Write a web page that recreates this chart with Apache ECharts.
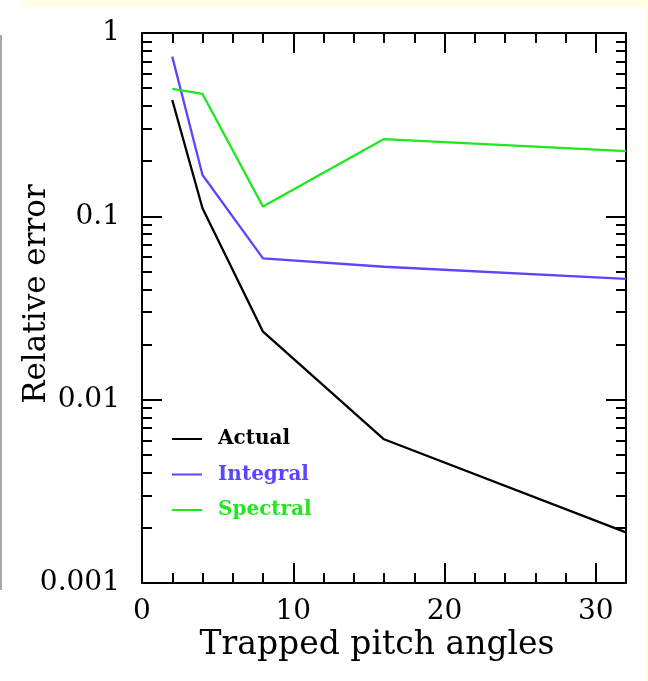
<!DOCTYPE html>
<html>
<head>
<meta charset="utf-8">
<script src="https://cdn.jsdelivr.net/npm/echarts@6/dist/echarts.min.js"></script>
<style>
  html, body { margin: 0; padding: 0; width: 648px; height: 681px; overflow: hidden; background: #fffde2; }
  #sheet { position: absolute; left: 0; top: 7px; width: 645px; height: 674px; background: #ffffff; }
  #corner { position: absolute; left: 0; top: 0; width: 23px; height: 7px; background: #ffffff; }
  #edge { position: absolute; left: 0; top: 35px; width: 2px; height: 555px; background: #a8a8a8; }
  #chart { position: absolute; left: 0; top: 0; width: 648px; height: 681px; }
</style>
</head>
<body>
<div id="sheet"></div>
<div id="corner"></div>
<div id="edge"></div>
<div id="chart"></div>
<script>
// Number of trapped pitch angles
const pitchAngles = [2, 4, 8, 16, 32];

// Relative error of each estimate
const actualError   = [0.431, 0.1106, 0.0235, 0.00608, 0.00189];
const integralError = [0.743, 0.168, 0.059, 0.0531, 0.0456];
const spectralError = [0.495, 0.465, 0.113, 0.264, 0.227];

const seriesNames  = ['Actual', 'Integral', 'Spectral'];
const seriesColors = ['#000000', '#5a46ff', '#1ee81e'];

// Axis ticks
const xTicks      = [0, 10, 20, 30];
const xMinorTicks = [2, 4, 6, 8, 12, 14, 16, 18, 22, 24, 26, 28];
const yTicks      = [0.001, 0.01, 0.1, 1];
const yTickLabels = ['0.001', '0.01', '0.1', '1'];
const yMinorTicks = [];
[0.001, 0.01, 0.1].forEach(function (decade) {
  for (let k = 2; k <= 9; k++) yMinorTicks.push(+(decade * k).toPrecision(3));
});

const FONT = '"DejaVu Serif", serif';
const INK = '#000000';

function xAxisDef(position, ticks, len, withLine, withLabels) {
  return {
    type: 'value', position: position, min: 0, max: 32,
    axisLine: { show: withLine, onZero: false, lineStyle: { color: INK, width: 2 } },
    axisTick: { show: true, inside: true, length: len, customValues: ticks, lineStyle: { color: INK, width: 2 } },
    axisLabel: { show: withLabels, customValues: xTicks, fontFamily: FONT, fontSize: 28, color: INK, margin: 15 },
    splitLine: { show: false }
  };
}

function yAxisDef(position, ticks, len, withLine, withLabels) {
  return {
    type: 'log', logBase: 10, position: position, min: 0.001, max: 1,
    axisLine: { show: withLine, onZero: false, lineStyle: { color: INK, width: 2 } },
    axisTick: { show: true, inside: true, length: len, customValues: ticks, lineStyle: { color: INK, width: 2 } },
    axisLabel: {
      show: withLabels, customValues: yTicks, fontFamily: FONT, fontSize: 28, color: INK, margin: 22,
      formatter: function (v) {
        const i = yTicks.findIndex(function (t) { return Math.abs(Math.log10(t) - Math.log10(v)) < 1e-6; });
        return i >= 0 ? yTickLabels[i] : '';
      }
    },
    splitLine: { show: false }
  };
}

const xAxes = [
  xAxisDef('bottom', xTicks, 20, true, true),
  xAxisDef('bottom', xMinorTicks, 10, false, false),
  xAxisDef('top', xTicks, 20, true, false),
  xAxisDef('top', xMinorTicks, 10, false, false)
];
Object.assign(xAxes[0], {
  name: 'Trapped pitch angles', nameLocation: 'middle', nameGap: 46, nameMoveOverlap: false,
  nameTextStyle: { fontFamily: FONT, fontSize: 33, color: INK, padding: [0, 14, 0, 0] }
});

const yAxes = [
  yAxisDef('left', yTicks, 20, true, true),
  yAxisDef('left', yMinorTicks, 10, false, false),
  yAxisDef('right', yTicks, 20, true, false),
  yAxisDef('right', yMinorTicks, 10, false, false)
];
Object.assign(yAxes[0], {
  name: 'Relative error', nameLocation: 'middle', nameGap: 90, nameMoveOverlap: false,
  nameTextStyle: { fontFamily: FONT, fontSize: 31, color: INK, padding: [0, 0, 0, 28] }
});

function pairs(values) {
  return pitchAngles.map(function (x, i) { return [x, values[i]]; });
}

const seriesValues = [actualError, integralError, spectralError];

const chart = echarts.init(document.getElementById('chart'), null, { renderer: 'canvas' });
chart.setOption({
  animation: false,
  backgroundColor: 'transparent',
  grid: { left: 142, top: 33, right: 22, bottom: 98, containLabel: false, outerBoundsMode: 'none' },
  xAxis: xAxes,
  yAxis: yAxes,
  legend: {
    orient: 'vertical', left: 172, top: 428, padding: 0,
    icon: 'rect', itemWidth: 30, itemHeight: 2, itemGap: 13.5,
    textStyle: { fontFamily: FONT, fontSize: 20, fontWeight: 'bold', lineHeight: 22, padding: [0, 0, 0, 11] },
    data: seriesNames.map(function (n, i) {
      return { name: n, itemStyle: { color: seriesColors[i] }, textStyle: { color: seriesColors[i] } };
    })
  },
  series: seriesNames.map(function (n, i) {
    return {
      name: n, type: 'line', xAxisIndex: 0, yAxisIndex: 0,
      data: pairs(seriesValues[i]),
      symbol: 'none', showSymbol: false,
      color: seriesColors[i],
      lineStyle: { color: seriesColors[i], width: 2.3 }
    };
  })
});
</script>
</body>
</html>
